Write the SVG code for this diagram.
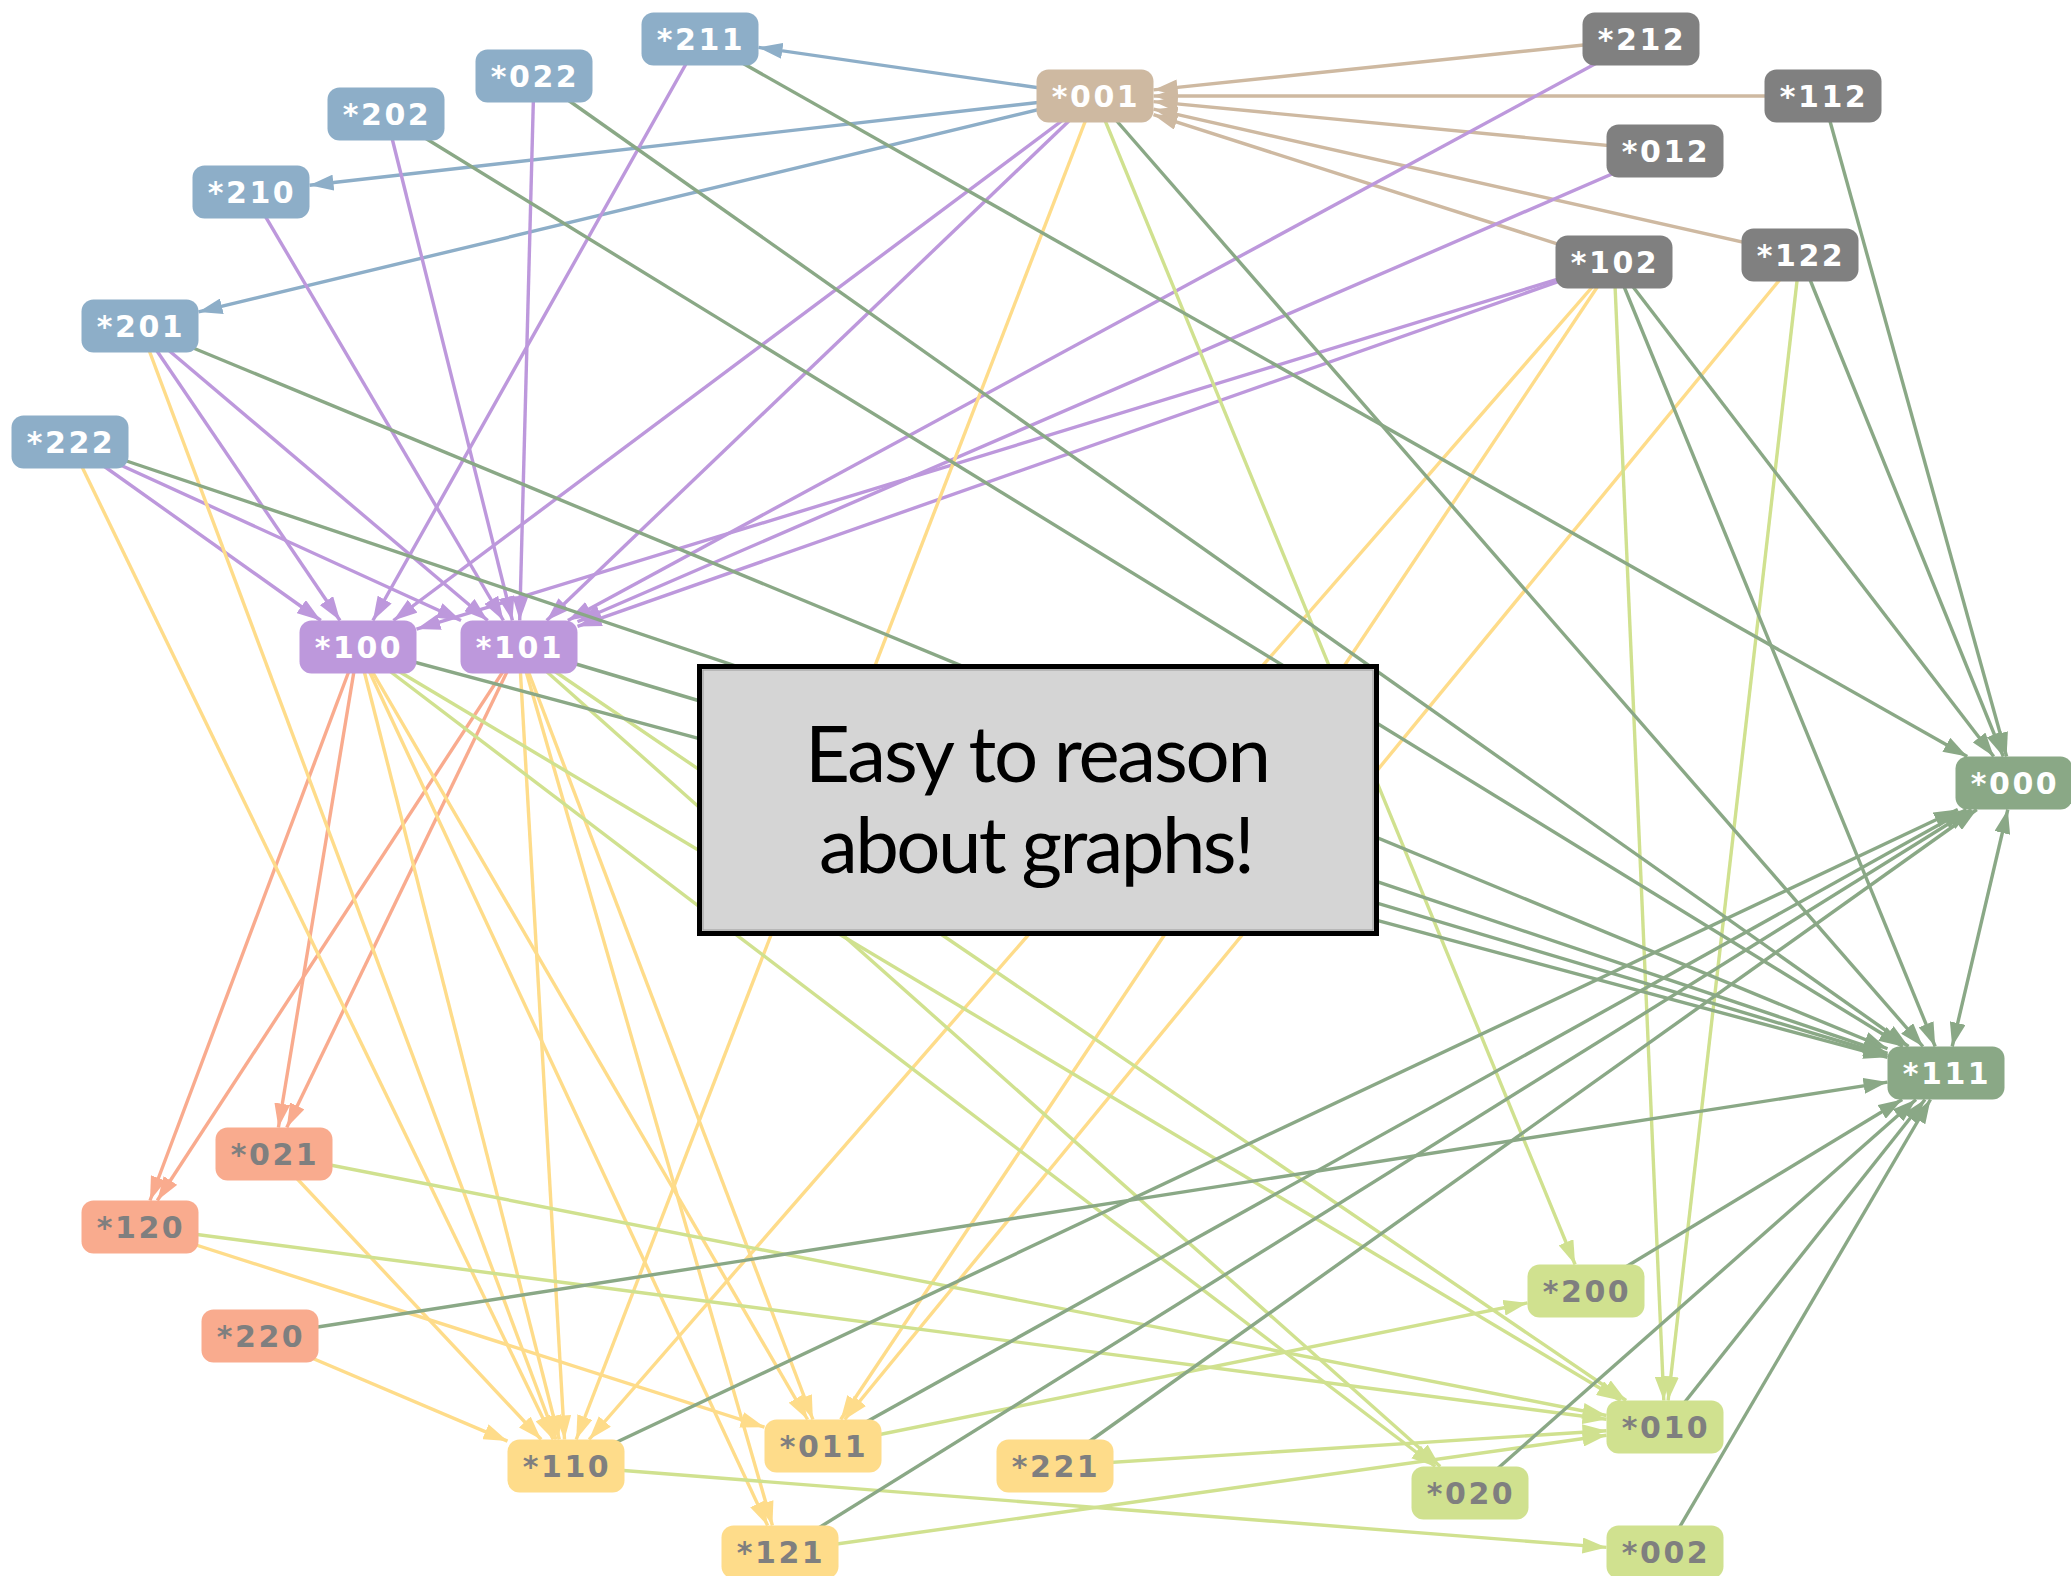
<svg xmlns="http://www.w3.org/2000/svg" width="2071" height="1576" viewBox="0 0 2071 1576">
  <style>
    .edge { fill: none; stroke-width: 3.4; }
    .blue { stroke: #8daec8; marker-end: url(#ah-blue); }
    .tan { stroke: #ceb9a1; marker-end: url(#ah-tan); }
    .purple { stroke: #bd98dc; marker-end: url(#ah-purple); }
    .salmon { stroke: #f9ab8e; marker-end: url(#ah-salmon); }
    .yellow { stroke: #fedc8a; marker-end: url(#ah-yellow); }
    .lgreen { stroke: #d0e18f; marker-end: url(#ah-lgreen); }
    .dgreen { stroke: #8aa886; marker-end: url(#ah-dgreen); }
    .both { stroke: #8aa886; marker-start: url(#ah-dgreen-s); marker-end: url(#ah-dgreen); }
    .node rect { width: 117px; height: 53px; rx: 12px; ry: 12px; }
    .node text { font-family: "DejaVu Sans", "Verdana", sans-serif; font-weight: bold; font-size: 30px; letter-spacing: 2.5px; text-anchor: middle; }
    .light text { fill: #ffffff; }
    .dark text { fill: #7f7f7f; }
    .c-blue rect { fill: #8daec8; }
    .c-tan rect { fill: #ceb9a1; }
    .c-gray rect { fill: #808080; }
    .c-purple rect { fill: #bd98dc; }
    .c-dgreen rect { fill: #8aa886; }
    .c-salmon rect { fill: #f9ab8e; }
    .c-yellow rect { fill: #fedc8a; }
    .c-lgreen rect { fill: #d0e18f; }
    .note-text { font-family: "Lato", "Open Sans", sans-serif; font-size: 78px; fill: #000000; text-anchor: middle; }
  </style>
  <defs>
    <marker id="ah-blue" markerUnits="userSpaceOnUse" markerWidth="24" markerHeight="16" refX="24" refY="8" orient="auto"><path d="M0,0 L24,8 L0,16 z" fill="#8daec8"/></marker>
    <marker id="ah-tan" markerUnits="userSpaceOnUse" markerWidth="24" markerHeight="16" refX="24" refY="8" orient="auto"><path d="M0,0 L24,8 L0,16 z" fill="#ceb9a1"/></marker>
    <marker id="ah-purple" markerUnits="userSpaceOnUse" markerWidth="24" markerHeight="16" refX="24" refY="8" orient="auto"><path d="M0,0 L24,8 L0,16 z" fill="#bd98dc"/></marker>
    <marker id="ah-salmon" markerUnits="userSpaceOnUse" markerWidth="24" markerHeight="16" refX="24" refY="8" orient="auto"><path d="M0,0 L24,8 L0,16 z" fill="#f9ab8e"/></marker>
    <marker id="ah-yellow" markerUnits="userSpaceOnUse" markerWidth="24" markerHeight="16" refX="24" refY="8" orient="auto"><path d="M0,0 L24,8 L0,16 z" fill="#fedc8a"/></marker>
    <marker id="ah-lgreen" markerUnits="userSpaceOnUse" markerWidth="24" markerHeight="16" refX="24" refY="8" orient="auto"><path d="M0,0 L24,8 L0,16 z" fill="#d0e18f"/></marker>
    <marker id="ah-dgreen" markerUnits="userSpaceOnUse" markerWidth="24" markerHeight="16" refX="24" refY="8" orient="auto"><path d="M0,0 L24,8 L0,16 z" fill="#8aa886"/></marker>
    <marker id="ah-dgreen-s" markerUnits="userSpaceOnUse" markerWidth="24" markerHeight="16" refX="24" refY="8" orient="auto-start-reverse"><path d="M0,0 L24,8 L0,16 z" fill="#8aa886"/></marker>
  </defs>

  <rect width="2071" height="1576" fill="#ffffff"/>

  <!-- connectors: each runs from the source centre to the target border -->
  <g id="connectors">
    <line class="edge blue" x1="1095" y1="96" x2="758.5" y2="47.4"/>
    <line class="edge blue" x1="1095" y1="96" x2="309.5" y2="185.3"/>
    <line class="edge blue" x1="1095" y1="96" x2="198.5" y2="311.9"/>

    <line class="edge tan" x1="1641" y1="39" x2="1153.5" y2="89.9"/>
    <line class="edge tan" x1="1823" y1="96" x2="1153.5" y2="96"/>
    <line class="edge tan" x1="1665" y1="151" x2="1153.5" y2="101.6"/>
    <line class="edge tan" x1="1614" y1="262" x2="1153.5" y2="114.7"/>
    <line class="edge tan" x1="1800" y1="255" x2="1153.5" y2="109.2"/>

    <line class="edge purple" x1="700" y1="39" x2="372.9" y2="620.5"/>
    <line class="edge purple" x1="140" y1="326" x2="340" y2="620.5"/>
    <line class="edge purple" x1="70" y1="442" x2="320.8" y2="620.5"/>
    <line class="edge purple" x1="1095" y1="96" x2="393.4" y2="620.5"/>
    <line class="edge purple" x1="1614" y1="262" x2="416.5" y2="629.1"/>
    <line class="edge purple" x1="386" y1="114" x2="512.4" y2="620.5"/>
    <line class="edge purple" x1="534" y1="76" x2="519.7" y2="620.5"/>
    <line class="edge purple" x1="251" y1="192" x2="503.4" y2="620.5"/>
    <line class="edge purple" x1="140" y1="326" x2="487.7" y2="620.5"/>
    <line class="edge purple" x1="70" y1="442" x2="461" y2="620.5"/>
    <line class="edge purple" x1="1095" y1="96" x2="546.7" y2="620.5"/>
    <line class="edge purple" x1="1641" y1="39" x2="567.9" y2="620.5"/>
    <line class="edge purple" x1="1665" y1="151" x2="577.5" y2="621.7"/>
    <line class="edge purple" x1="1614" y1="262" x2="577.5" y2="626.4"/>

    <line class="edge salmon" x1="358" y1="647" x2="278.4" y2="1127.5"/>
    <line class="edge salmon" x1="519" y1="647" x2="286.8" y2="1127.5"/>
    <line class="edge salmon" x1="358" y1="647" x2="150" y2="1200.5"/>
    <line class="edge salmon" x1="519" y1="647" x2="157.3" y2="1200.5"/>

    <line class="edge yellow" x1="70" y1="442" x2="553.2" y2="1439.5"/>
    <line class="edge yellow" x1="140" y1="326" x2="556.1" y2="1439.5"/>
    <line class="edge yellow" x1="358" y1="647" x2="559.3" y2="1439.5"/>
    <line class="edge yellow" x1="519" y1="647" x2="564.5" y2="1439.5"/>
    <line class="edge yellow" x1="1095" y1="96" x2="576.2" y2="1439.5"/>
    <line class="edge yellow" x1="1614" y1="262" x2="589.1" y2="1439.5"/>
    <line class="edge yellow" x1="260" y1="1336" x2="507.5" y2="1441.1"/>
    <line class="edge yellow" x1="274" y1="1154" x2="541.2" y2="1439.5"/>
    <line class="edge yellow" x1="358" y1="647" x2="807.6" y2="1419.5"/>
    <line class="edge yellow" x1="519" y1="647" x2="812.9" y2="1419.5"/>
    <line class="edge yellow" x1="1614" y1="262" x2="840.7" y2="1419.5"/>
    <line class="edge yellow" x1="1800" y1="255" x2="844.7" y2="1419.5"/>
    <line class="edge yellow" x1="140" y1="1227" x2="764.5" y2="1427.2"/>
    <line class="edge yellow" x1="358" y1="647" x2="767.6" y2="1525.5"/>
    <line class="edge yellow" x1="519" y1="647" x2="772.4" y2="1525.5"/>

    <line class="edge lgreen" x1="1095" y1="96" x2="1575.1" y2="1264.5"/>
    <line class="edge lgreen" x1="823" y1="1446" x2="1527.5" y2="1302.9"/>
    <line class="edge lgreen" x1="1614" y1="262" x2="1663.8" y2="1400.5"/>
    <line class="edge lgreen" x1="1800" y1="255" x2="1668.1" y2="1400.5"/>
    <line class="edge lgreen" x1="358" y1="647" x2="1620.6" y2="1400.5"/>
    <line class="edge lgreen" x1="519" y1="647" x2="1626.1" y2="1400.5"/>
    <line class="edge lgreen" x1="274" y1="1154" x2="1606.5" y2="1415.5"/>
    <line class="edge lgreen" x1="140" y1="1227" x2="1606.5" y2="1419.3"/>
    <line class="edge lgreen" x1="1055" y1="1466" x2="1606.5" y2="1430.7"/>
    <line class="edge lgreen" x1="780" y1="1552" x2="1606.5" y2="1435.3"/>
    <line class="edge lgreen" x1="358" y1="647" x2="1435.2" y2="1466.5"/>
    <line class="edge lgreen" x1="519" y1="647" x2="1440.2" y2="1466.5"/>
    <line class="edge lgreen" x1="566" y1="1466" x2="1606.5" y2="1547.4"/>

    <line class="edge dgreen" x1="700" y1="39" x2="1967.2" y2="756.5"/>
    <line class="edge dgreen" x1="1614" y1="262" x2="1993.7" y2="756.5"/>
    <line class="edge dgreen" x1="1800" y1="255" x2="2003.3" y2="756.5"/>
    <line class="edge dgreen" x1="1823" y1="96" x2="2006.6" y2="756.5"/>
    <line class="edge dgreen" x1="566" y1="1466" x2="1957.8" y2="809.5"/>
    <line class="edge dgreen" x1="823" y1="1446" x2="1966.4" y2="809.5"/>
    <line class="edge dgreen" x1="780" y1="1552" x2="1971.5" y2="809.5"/>
    <line class="edge dgreen" x1="1055" y1="1466" x2="1976.8" y2="809.5"/>
    <line class="edge dgreen" x1="534" y1="76" x2="1908.5" y2="1046.5"/>
    <line class="edge dgreen" x1="386" y1="114" x2="1902.9" y2="1046.5"/>
    <line class="edge dgreen" x1="140" y1="326" x2="1887.5" y2="1048.8"/>
    <line class="edge dgreen" x1="70" y1="442" x2="1887.5" y2="1053.3"/>
    <line class="edge dgreen" x1="358" y1="647" x2="1887.5" y2="1057.3"/>
    <line class="edge dgreen" x1="519" y1="647" x2="1887.5" y2="1055.5"/>
    <line class="edge dgreen" x1="1095" y1="96" x2="1922.9" y2="1046.5"/>
    <line class="edge dgreen" x1="1614" y1="262" x2="1935.2" y2="1046.5"/>
    <line class="edge dgreen" x1="260" y1="1336" x2="1887.5" y2="1082.1"/>
    <line class="edge dgreen" x1="1586" y1="1291" x2="1902.2" y2="1099.5"/>
    <line class="edge dgreen" x1="1665" y1="1427" x2="1925" y2="1099.5"/>
    <line class="edge dgreen" x1="1470" y1="1493" x2="1916" y2="1099.5"/>
    <line class="edge dgreen" x1="1665" y1="1552" x2="1930.5" y2="1099.5"/>
    <line class="edge both" x1="2007.8" y1="809.5" x2="1952.2" y2="1046.5"/>
  </g>

  <!-- nodes -->
  <g id="n-211" class="node light c-blue"><rect x="641.5" y="12.5"/><text x="701" y="50">*211</text></g>
  <g id="n-022" class="node light c-blue"><rect x="475.5" y="49.5"/><text x="535" y="87">*022</text></g>
  <g id="n-202" class="node light c-blue"><rect x="327.5" y="87.5"/><text x="387" y="125">*202</text></g>
  <g id="n-210" class="node light c-blue"><rect x="192.5" y="165.5"/><text x="252" y="203">*210</text></g>
  <g id="n-201" class="node light c-blue"><rect x="81.5" y="299.5"/><text x="141" y="337">*201</text></g>
  <g id="n-222" class="node light c-blue"><rect x="11.5" y="415.5"/><text x="71" y="453">*222</text></g>

  <g id="n-001" class="node light c-tan"><rect x="1036.5" y="69.5"/><text x="1096" y="107">*001</text></g>

  <g id="n-212" class="node light c-gray"><rect x="1582.5" y="12.5"/><text x="1642" y="50">*212</text></g>
  <g id="n-112" class="node light c-gray"><rect x="1764.5" y="69.5"/><text x="1824" y="107">*112</text></g>
  <g id="n-012" class="node light c-gray"><rect x="1606.5" y="124.5"/><text x="1666" y="162">*012</text></g>
  <g id="n-102" class="node light c-gray"><rect x="1555.5" y="235.5"/><text x="1615" y="273">*102</text></g>
  <g id="n-122" class="node light c-gray"><rect x="1741.5" y="228.5"/><text x="1801" y="266">*122</text></g>

  <g id="n-100" class="node light c-purple"><rect x="299.5" y="620.5"/><text x="359" y="658">*100</text></g>
  <g id="n-101" class="node light c-purple"><rect x="460.5" y="620.5"/><text x="520" y="658">*101</text></g>

  <g id="n-000" class="node light c-dgreen"><rect x="1955.5" y="756.5"/><text x="2015" y="794">*000</text></g>
  <g id="n-111" class="node light c-dgreen"><rect x="1887.5" y="1046.5"/><text x="1947" y="1084">*111</text></g>

  <g id="n-021" class="node dark c-salmon"><rect x="215.5" y="1127.5"/><text x="275" y="1165">*021</text></g>
  <g id="n-120" class="node dark c-salmon"><rect x="81.5" y="1200.5"/><text x="141" y="1238">*120</text></g>
  <g id="n-220" class="node dark c-salmon"><rect x="201.5" y="1309.5"/><text x="261" y="1347">*220</text></g>

  <g id="n-110" class="node dark c-yellow"><rect x="507.5" y="1439.5"/><text x="567" y="1477">*110</text></g>
  <g id="n-011" class="node dark c-yellow"><rect x="764.5" y="1419.5"/><text x="824" y="1457">*011</text></g>
  <g id="n-121" class="node dark c-yellow"><rect x="721.5" y="1525.5"/><text x="781" y="1563">*121</text></g>
  <g id="n-221" class="node dark c-yellow"><rect x="996.5" y="1439.5"/><text x="1056" y="1477">*221</text></g>

  <g id="n-200" class="node dark c-lgreen"><rect x="1527.5" y="1264.5"/><text x="1587" y="1302">*200</text></g>
  <g id="n-010" class="node dark c-lgreen"><rect x="1606.5" y="1400.5"/><text x="1666" y="1438">*010</text></g>
  <g id="n-020" class="node dark c-lgreen"><rect x="1411.5" y="1466.5"/><text x="1471" y="1504">*020</text></g>
  <g id="n-002" class="node dark c-lgreen"><rect x="1606.5" y="1525.5"/><text x="1666" y="1563">*002</text></g>

  <!-- caption panel laid over the graph -->
  <g id="note">
    <rect x="699.5" y="666.5" width="677" height="267" fill="#d5d5d5" stroke="#000000" stroke-width="5"/>
    <rect x="703" y="670" width="670" height="260" fill="none" stroke="#9a9a9a" stroke-width="1"/>
    <text class="note-text" x="1038" y="782" textLength="466">Easy to reason</text>
    <text class="note-text" x="1037" y="873" textLength="436">about graphs!</text>
  </g>
</svg>
